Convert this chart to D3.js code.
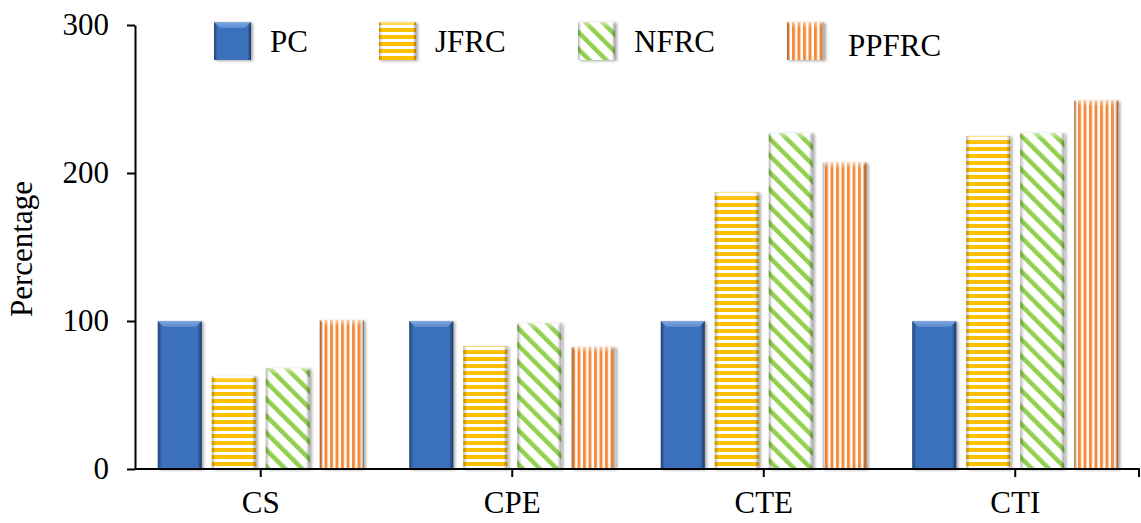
<!DOCTYPE html>
<html><head><meta charset="utf-8">
<script src="https://cdn.jsdelivr.net/npm/d3@7"></script>
<style>
html,body{margin:0;padding:0;background:#fff;}
svg{display:block;font-family:"Liberation Serif","Times New Roman",serif;}
</style></head>
<body>
<svg id="chart" width="1141" height="523"></svg>
<script>
const categories = ["CS", "CPE", "CTE", "CTI"];
const seriesNames = ["PC", "JFRC", "NFRC", "PPFRC"];
const PC    = [100, 100, 100, 100];
const JFRC  = [63, 83, 187, 225];
const NFRC  = [68, 98.5, 227, 227];
const PPFRC = [100.5, 82.5, 207, 249];
const yTicks = [0, 100, 200, 300];
const yLabel = "Percentage";

const seriesValues = [PC, JFRC, NFRC, PPFRC];
const svg = d3.select("#chart");
const defs = svg.append("defs");

// patterns
const pH = defs.append("pattern").attr("id","pat-JFRC").attr("patternUnits","userSpaceOnUse").attr("width",10).attr("height",7);
pH.append("rect").attr("width",10).attr("height",7).attr("fill","#fff");
pH.append("rect").attr("y",0).attr("width",10).attr("height",4).attr("fill","#FFC000");

const pD = defs.append("pattern").attr("id","pat-NFRC").attr("patternUnits","userSpaceOnUse").attr("width",12).attr("height",12).attr("patternTransform","rotate(-45)");
pD.append("rect").attr("width",12).attr("height",12).attr("fill","#fff");
pD.append("rect").attr("x",0).attr("width",4.5).attr("height",12).attr("fill","#92D050");

const pV = defs.append("pattern").attr("id","pat-PPFRC").attr("patternUnits","userSpaceOnUse").attr("width",5.5).attr("height",10);
pV.append("rect").attr("width",5.5).attr("height",10).attr("fill","#fff");
pV.append("rect").attr("x",0).attr("width",3).attr("height",10).attr("fill","#F58B3A");

const gB = defs.append("linearGradient").attr("id","grad-PC").attr("x1",0).attr("x2",1).attr("y1",0).attr("y2",0);
[[0,"#2F5E9F"],[0.1,"#3B70BC"],[0.9,"#3B70BC"],[1,"#2C5794"]].forEach(s=>gB.append("stop").attr("offset",s[0]).attr("stop-color",s[1]));

const gS = defs.append("linearGradient").attr("id","side").attr("x1",0).attr("x2",1).attr("y1",0).attr("y2",0);
[[0,"#000",0.28],[0.09,"#000",0.0],[0.91,"#000",0.0],[1,"#000",0.35]].forEach(s=>gS.append("stop").attr("offset",s[0]).attr("stop-color",s[1]).attr("stop-opacity",s[2]));
const gT = defs.append("linearGradient").attr("id","topl").attr("x1",0).attr("x2",0).attr("y1",0).attr("y2",1);
[[0,"#fff",0.55],[1,"#fff",0]].forEach(s=>gT.append("stop").attr("offset",s[0]).attr("stop-color",s[1]).attr("stop-opacity",s[2]));

const filt = defs.append("filter").attr("id","shadow").attr("x","-20%").attr("y","-20%").attr("width","140%").attr("height","140%");
filt.append("feDropShadow").attr("dx",2).attr("dy",1).attr("stdDeviation",1.8).attr("flood-color","#000").attr("flood-opacity",0.35);

const fills = {PC:"url(#grad-PC)", JFRC:"url(#pat-JFRC)", NFRC:"url(#pat-NFRC)", PPFRC:"url(#pat-PPFRC)"};

const mLeft = 135, mRight = 1141, mTop = 25, mBottom = 469;
const x = d3.scaleBand().domain(categories).range([mLeft, mRight]).paddingInner(0.181).paddingOuter(0.0905);
const xs = d3.scaleBand().domain(seriesNames).range([0, x.bandwidth()]).paddingInner(0.185);
const y = d3.scaleLinear().domain([0, 300]).range([mBottom, mTop]);

function drawBar(g, x0, y0, w, h, name){
  const b = g.append("g");
  b.append("rect").attr("x",x0).attr("y",y0).attr("width",w).attr("height",h).attr("fill",fills[name]).attr("filter","url(#shadow)");
  b.append("rect").attr("x",x0).attr("y",y0).attr("width",w).attr("height",h).attr("fill","url(#side)");
  const th = Math.min(6, h);
  b.append("path").attr("d",`M${x0},${y0}L${x0+w},${y0}L${x0+w-th},${y0+th}L${x0+th},${y0+th}Z`).attr("fill","url(#topl)");
  if(name==="PC"){
    b.append("path").attr("d",`M${x0},${y0}L${x0+w},${y0}L${x0+w-th},${y0+th}L${x0+th},${y0+th}Z`).attr("fill","#6A9BE0").attr("opacity",0.6);
  }
}

const barsG = svg.append("g");
categories.forEach((c, i) => {
  seriesNames.forEach((s, j) => {
    const v = seriesValues[j][i];
    const bx = x(c) + xs(s);
    drawBar(barsG, bx, y(v), xs.bandwidth(), y(0) - y(v), s);
  });
});

const fontSize = 31;
const yAxis = svg.append("g").attr("transform",`translate(${mLeft},0)`)
  .call(d3.axisLeft(y).tickValues(yTicks).tickSize(8).tickSizeOuter(0).tickPadding(18).tickFormat(d3.format("d")));
yAxis.selectAll("path,line").attr("stroke","#000").attr("stroke-width",2);
yAxis.selectAll("text").attr("font-size",fontSize).attr("font-family","Liberation Serif, Times New Roman, serif").attr("fill","#000");

const xAxis = svg.append("g").attr("transform",`translate(0,${mBottom})`)
  .call(d3.axisBottom(x).tickSize(8).tickSizeOuter(8).tickPadding(14));
xAxis.select(".domain").attr("stroke","#000").attr("stroke-width",2).attr("d",`M${mLeft},0H${mRight-2}V8`);
xAxis.selectAll("line").attr("stroke","#000").attr("stroke-width",2);
xAxis.selectAll("text").attr("font-size",fontSize).attr("font-family","Liberation Serif, Times New Roman, serif").attr("fill","#000");

svg.append("text").attr("transform",`translate(32,${(mTop+mBottom)/2+2}) rotate(-90)`)
  .attr("text-anchor","middle").attr("font-size",fontSize).attr("fill","#000").text(yLabel);

const legendX = [214, 379, 578, 787];
const legendTextX = [270, 435, 634, 848];
const legendBase = [52, 52, 52, 56];
const lg = svg.append("g");
seriesNames.forEach((s, j) => {
  drawBar(lg, legendX[j], 22, 37, 38, s);
  lg.append("text").attr("x",legendTextX[j]).attr("y",legendBase[j]).attr("font-size",fontSize).attr("fill","#000").text(s);
});
</script>
</body></html>
